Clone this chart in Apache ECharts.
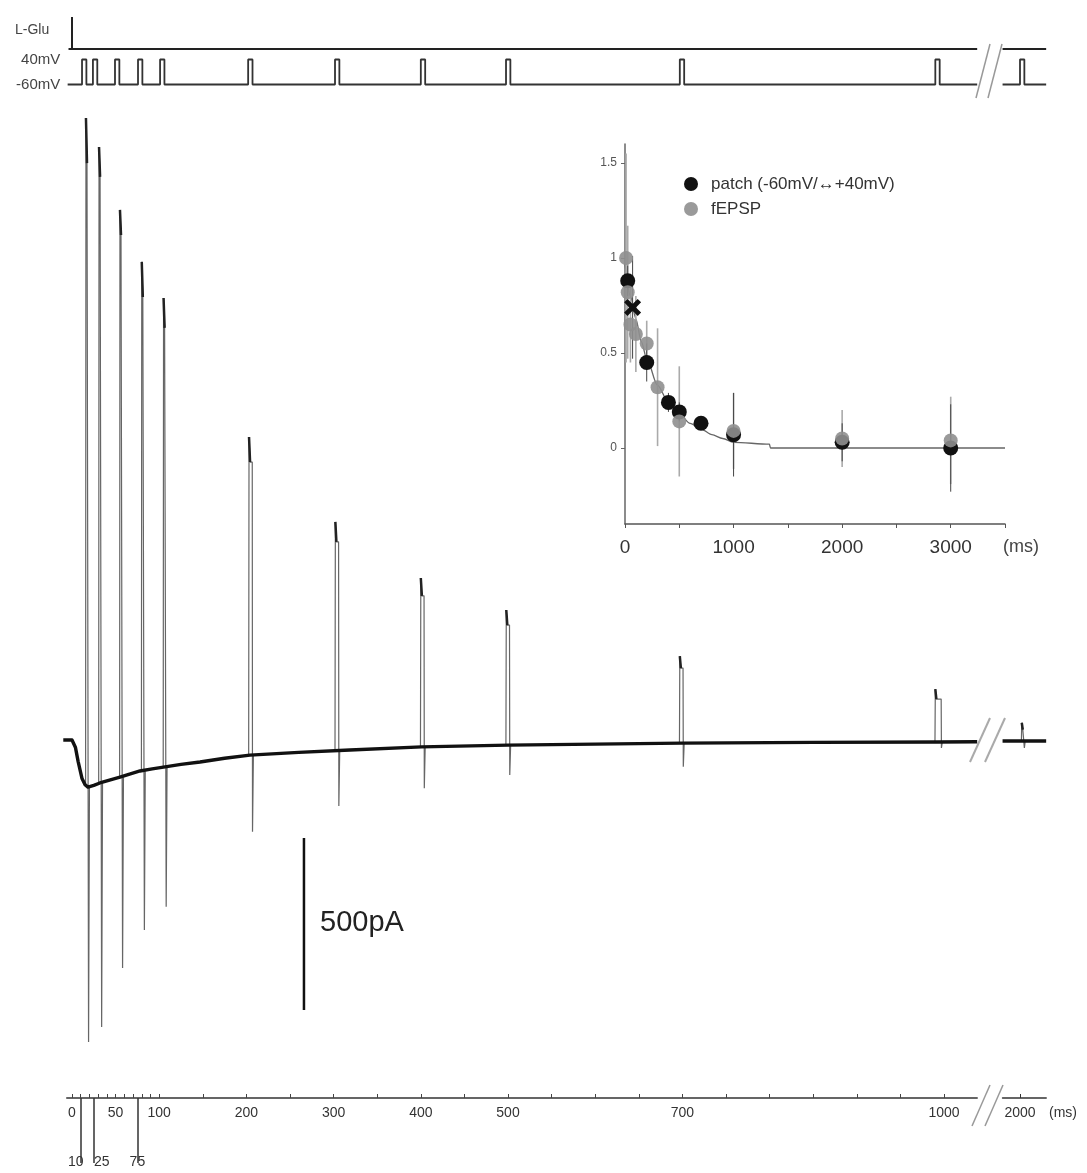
<!DOCTYPE html>
<html><head><meta charset="utf-8">
<script src="https://cdn.jsdelivr.net/npm/echarts@6/dist/echarts.min.js"></script>
<style>html,body{margin:0;padding:0;background:#fff}#c{width:1087px;height:1173px}</style>
</head><body><div id="c"></div>
<script>
// ---------- main current trace (time ms, current pA) ----------
const baseT = [-10, 0, 1.5, 4, 7, 11.5, 15, 18.3, 25, 32, 45, 55, 66, 78, 92, 106.7, 125, 146.8, 175, 204, 260, 318.8, 401, 500, 600, 699.5, 850, 993, 1038];
const baseI = [0, 0, -4, -22, -62, -112, -130, -137, -132, -125, -115, -108, -99, -90, -84, -78, -71, -64, -53, -44, -36, -29, -20, -15, -12, -9, -7, -6, -5];
const base2T = [1980, 2030];
const base2I = [-3, -3];
const spikeUpT = [16, 31, 55, 80, 105, 203, 302, 400, 498, 697, 990, 2002];
const spikeDownT = [19, 34, 58, 83, 108, 207, 306, 404, 502, 701, 997, 2005];
const spikeBase = [-137, -126, -108, -91, -78, -44, -29, -20, -15, -9, -6, -3];
const spikePeak = [1808, 1724, 1541, 1390, 1285, 881, 634, 471, 378, 244, 148, 50];
const spikeHook = [1677, 1637, 1468, 1288, 1198, 808, 576, 419, 334, 209, 119, 30];
const spikeTrough = [-878, -834, -663, -552, -485, -267, -192, -140, -102, -78, -23, -23];
const scaleBarT = 266;
const scaleBarI = [-285, -785];

// ---------- protocol ----------
const pulseStart = [11.5, 24, 49.3, 75.7, 101, 202, 301.6, 400, 497.7, 697, 990, 2000];
const pulseWidth = 5;
const holdV = -60, stepV = 40;
const gluOnT = 0;

// ---------- axis labels ----------
const axisLabelVals = [0, 50, 100, 200, 300, 400, 500, 700, 1000];
const axisTickVals = [0, 10, 20, 30, 40, 50, 60, 70, 80, 90, 100, 150, 200, 250, 300, 350, 400, 450, 500, 550, 600, 650, 700, 750, 800, 850, 900, 950, 1000];
const subLabelVals = [10, 25, 75];
const seg2LabelVals = [2000];

// ---------- inset ----------
const patchT = [25, 70, 200, 400, 500, 700, 1000, 2000, 3000];
const patchV = [0.88, 0.74, 0.45, 0.24, 0.19, 0.13, 0.07, 0.03, 0.0];
const patchE = [0.08, 0.27, 0.1, 0.05, 0.05, 0.03, 0.22, 0.1, 0.23];
const fepspT = [10, 25, 50, 100, 200, 300, 500, 1000, 2000, 3000];
const fepspV = [1.0, 0.82, 0.65, 0.6, 0.55, 0.32, 0.14, 0.09, 0.05, 0.04];
const fepspE = [0.55, 0.35, 0.2, 0.2, 0.12, 0.31, 0.29, 0.2, 0.15, 0.23];
const fitT = [0, 50, 100, 150, 200, 300, 400, 500, 600, 700, 800, 900, 1000, 1330, 1340, 3500];
const fitV = [0.97, 0.8, 0.68, 0.56, 0.47, 0.33, 0.24, 0.18, 0.13, 0.1, 0.07, 0.05, 0.03, 0.02, 0.0, 0.0];
const insetYLabels = [0, 0.5, 1, 1.5];
const insetXLabels = [0, 1000, 2000, 3000];

const FONT = 'Liberation Sans, Arial, Helvetica, sans-serif';
const chart = echarts.init(document.getElementById('c'));

function zip(a, b) { return a.map((v, i) => [v, b[i]]); }
function protoData(lo, hi) {
  const d = [[lo, holdV]];
  pulseStart.forEach(p => { if (p > lo && p < hi) d.push([p, holdV], [p, stepV], [p + pulseWidth, stepV], [p + pulseWidth, holdV]); });
  d.push([hi, holdV]);
  return d;
}
function spikeData(lo, hi) {
  const d = [];
  spikeUpT.forEach((t, i) => {
    if (t < lo || t > hi) return;
    d.push([t - 0.4, spikeBase[i]], [t, spikePeak[i]], [t + 1.2, spikeHook[i]],
           [spikeDownT[i] - 0.3, spikeHook[i]], [spikeDownT[i], spikeTrough[i]], [spikeDownT[i] + 1.0, spikeBase[i]], null);
  });
  return d;
}
function hookData(lo, hi) {
  const d = [];
  spikeUpT.forEach((t, i) => {
    if (t < lo || t > hi) return;
    d.push([t, spikePeak[i]], [t + 1.2, spikeHook[i]], null);
  });
  return d;
}
function errRender(color, w) {
  return function (params, api) {
    const t = api.value(0), v = api.value(1), e = api.value(2);
    const p1 = api.coord([t, v + e]), p2 = api.coord([t, v - e]);
    return { type: 'line', shape: { x1: p1[0], y1: p1[1], x2: p2[0], y2: p2[1] }, style: { stroke: color, lineWidth: w } };
  };
}

const S1 = { left: 63.28, width: 913.9 };   // -10 .. 1038 ms
const S2 = { left: 1002.56, width: 43.6 };  // 1980 .. 2030 ms
const gb = { containLabel: false, outerBoundsMode: 'none' };
const hiddenX = (gi, min, max) => ({ gridIndex: gi, type: 'value', min, max, show: false, axisLine: { onZero: false } });
const hiddenY = (gi, min, max) => ({ gridIndex: gi, type: 'value', min, max, show: false, axisLine: { onZero: false } });

const option = {
  animation: false,
  backgroundColor: '#fff',
  textStyle: { fontFamily: FONT },
  grid: [
    Object.assign({ left: S1.left, width: S1.width, top: 17, height: 32 }, gb),
    Object.assign({ left: S2.left, width: S2.width, top: 17, height: 32 }, gb),
    Object.assign({ left: S1.left, width: S1.width, top: 57, height: 30 }, gb),
    Object.assign({ left: S2.left, width: S2.width, top: 57, height: 30 }, gb),
    Object.assign({ left: S1.left, width: S1.width, top: 110.5, height: 983.8 }, gb),
    Object.assign({ left: S2.left, width: S2.width, top: 110.5, height: 983.8 }, gb),
    Object.assign({ left: 66.77, width: 910.4, top: 1098, height: 65 }, gb),
    Object.assign({ left: S2.left, width: S2.width, top: 1098, height: 65 }, gb),
    Object.assign({ left: 625, width: 380, top: 144, height: 380 }, gb)
  ],
  xAxis: [
    hiddenX(0, -10, 1038), hiddenX(1, 1980, 2030),
    hiddenX(2, -10, 1038), hiddenX(3, 1980, 2030),
    hiddenX(4, -10, 1038), hiddenX(5, 1980, 2030),
    { gridIndex: 6, type: 'value', min: -6, max: 1038, position: 'top',
      axisLine: { onZero: false, lineStyle: { color: '#333', width: 1.5 } },
      axisTick: { customValues: axisTickVals, length: 4, lineStyle: { color: '#444', width: 1 } },
      axisLabel: { customValues: axisLabelVals, inside: true, margin: 8, fontSize: 14, color: '#333', formatter: v => String(v) },
      splitLine: { show: false } },
    { gridIndex: 6, type: 'value', min: -6, max: 1038, position: 'bottom',
      axisLine: { show: false, onZero: false },
      axisTick: { customValues: subLabelVals, inside: true, length: 65, lineStyle: { color: '#333', width: 1.5 } },
      axisLabel: { customValues: subLabelVals, margin: -8, fontSize: 14, color: '#333',
        formatter: v => v === 10 ? '{a|10}' : (v === 25 ? '{b|25}' : '{c|' + v + '}'),
        rich: { a: { fontSize: 14, color: '#333', padding: [0, 10, 0, 0] }, b: { fontSize: 14, color: '#333', padding: [0, 0, 0, 16] }, c: { fontSize: 14, color: '#333' } } },
      splitLine: { show: false } },
    { gridIndex: 7, type: 'value', min: 1980, max: 2030, position: 'top',
      axisLine: { onZero: false, lineStyle: { color: '#333', width: 1.5 } },
      axisTick: { customValues: seg2LabelVals, length: 4 },
      axisLabel: { customValues: seg2LabelVals, inside: true, margin: 8, fontSize: 14, color: '#333', formatter: v => String(v) },
      splitLine: { show: false } },
    { gridIndex: 8, type: 'value', min: 0, max: 3500, interval: 500,
      axisLine: { onZero: false, lineStyle: { color: '#555', width: 1.5 } },
      axisTick: { length: 4, lineStyle: { color: '#555' } },
      axisLabel: { customValues: insetXLabels, margin: 14, fontSize: 19, color: '#333', formatter: v => String(v) },
      splitLine: { show: false } }
  ],
  yAxis: [
    hiddenY(0, 0, 1), hiddenY(1, 0, 1),
    { gridIndex: 2, type: 'value', min: -70, max: 50,
      axisLine: { show: false, onZero: false }, axisTick: { show: false }, splitLine: { show: false },
      axisLabel: { customValues: [holdV, stepV], margin: 3, fontSize: 15, color: '#444', padding: [7, 0, 0, 0], formatter: v => v + 'mV' } },
    hiddenY(3, -70, 50),
    hiddenY(4, -1030, 1830), hiddenY(5, -1030, 1830),
    hiddenY(6, 0, 1), hiddenY(7, 0, 1),
    { gridIndex: 8, type: 'value', min: -0.4, max: 1.6,
      axisLine: { onZero: false, lineStyle: { color: '#666', width: 1.5 } },
      axisTick: { customValues: insetYLabels, length: 4, lineStyle: { color: '#666' } },
      axisLabel: { customValues: insetYLabels, margin: 8, fontSize: 12, color: '#555', formatter: v => String(v) },
      splitLine: { show: false } }
  ],
  legend: {
    orient: 'vertical', left: 679, top: 170, itemWidth: 14, itemHeight: 14, itemGap: 7, icon: 'circle',
    textStyle: { fontSize: 17, color: '#333', lineHeight: 18, padding: [0, 0, 0, 8] },
    data: ['patch (-60mV/\u2194+40mV)', 'fEPSP']
  },
  series: [
    { type: 'line', xAxisIndex: 0, yAxisIndex: 0, symbol: 'none', lineStyle: { color: '#222', width: 2 },
      data: [[-4, 0], [gluOnT, 0], [gluOnT, 1], [gluOnT, 0], [1038, 0]] },
    { type: 'line', xAxisIndex: 1, yAxisIndex: 1, symbol: 'none', lineStyle: { color: '#222', width: 2 },
      data: [[1980, 0], [2030, 0]] },
    { type: 'line', xAxisIndex: 2, yAxisIndex: 2, symbol: 'none', lineStyle: { color: '#333', width: 1.8 },
      data: protoData(-5, 1038) },
    { type: 'line', xAxisIndex: 3, yAxisIndex: 3, symbol: 'none', lineStyle: { color: '#333', width: 1.8 },
      data: protoData(1980, 2030) },
    { type: 'line', xAxisIndex: 4, yAxisIndex: 4, symbol: 'none', connectNulls: false, z: 2,
      lineStyle: { color: '#666', width: 1.2 }, data: spikeData(-10, 1038) },
    { type: 'line', xAxisIndex: 4, yAxisIndex: 4, symbol: 'none', connectNulls: false, z: 3,
      lineStyle: { color: '#222', width: 2.5 }, data: hookData(-10, 1038) },
    { type: 'line', xAxisIndex: 4, yAxisIndex: 4, symbol: 'none', z: 4,
      lineStyle: { color: '#111', width: 3.4, join: 'round' }, data: zip(baseT, baseI) },
    { type: 'line', xAxisIndex: 5, yAxisIndex: 5, symbol: 'none', connectNulls: false, z: 2,
      lineStyle: { color: '#666', width: 1.2 }, data: spikeData(1980, 2030) },
    { type: 'line', xAxisIndex: 5, yAxisIndex: 5, symbol: 'none', connectNulls: false, z: 3,
      lineStyle: { color: '#222', width: 2.5 }, data: hookData(1980, 2030) },
    { type: 'line', xAxisIndex: 5, yAxisIndex: 5, symbol: 'none', z: 4,
      lineStyle: { color: '#111', width: 3.4 }, data: zip(base2T, base2I) },
    { type: 'line', xAxisIndex: 4, yAxisIndex: 4, symbol: 'none', lineStyle: { color: '#111', width: 2.5 },
      data: [[scaleBarT, scaleBarI[0]], [scaleBarT, scaleBarI[1]]] },
    { type: 'line', xAxisIndex: 6, yAxisIndex: 6, data: [] },
    { type: 'line', xAxisIndex: 8, yAxisIndex: 7, data: [] },
    // inset
    { type: 'line', xAxisIndex: 9, yAxisIndex: 8, symbol: 'none', smooth: 0.3, smoothMonotone: 'x', z: 1,
      lineStyle: { color: '#666', width: 1.3 }, data: zip(fitT, fitV) },
    { type: 'custom', xAxisIndex: 9, yAxisIndex: 8, z: 2, renderItem: errRender('#aaa', 1.6),
      encode: { x: 0, y: 1 }, data: fepspT.map((t, i) => [t, fepspV[i], fepspE[i]]) },
    { type: 'custom', xAxisIndex: 9, yAxisIndex: 8, z: 2, renderItem: errRender('#444', 1),
      encode: { x: 0, y: 1 }, data: patchT.map((t, i) => [t, patchV[i], patchE[i]]) },
    { name: 'patch (-60mV/\u2194+40mV)', type: 'scatter', xAxisIndex: 9, yAxisIndex: 8, z: 3,
      symbolSize: 15, itemStyle: { color: '#111', opacity: 1 },
      data: patchT.map((t, i) => i === 1
        ? { value: [t, patchV[i]], symbol: 'path://M0,2L2,0L5,3L8,0L10,2L7,5L10,8L8,10L5,7L2,10L0,8L3,5Z', symbolSize: 17 }
        : [t, patchV[i]]) },
    { name: 'fEPSP', type: 'scatter', xAxisIndex: 9, yAxisIndex: 8, z: 4,
      symbolSize: 14, itemStyle: { color: '#8f8f8f', opacity: 0.9 },
      data: zip(fepspT, fepspV) }
  ],
  graphic: [
    { type: 'text', left: 15, top: 23, style: { text: 'L-Glu', font: '14px ' + FONT, fill: '#444' } },
    { type: 'text', left: 320, top: 908, style: { text: '500pA', font: '29px ' + FONT, fill: '#222' } },
    { type: 'text', left: 1049, top: 1106, style: { text: '(ms)', font: '14px ' + FONT, fill: '#333' } },
    { type: 'text', left: 1003, top: 538, style: { text: '(ms)', font: '18px ' + FONT, fill: '#444' } },
    { type: 'line', shape: { x1: 976, y1: 98, x2: 990, y2: 44 }, style: { stroke: '#999', lineWidth: 1.5 } },
    { type: 'line', shape: { x1: 988, y1: 98, x2: 1002, y2: 44 }, style: { stroke: '#999', lineWidth: 1.5 } },
    { type: 'line', shape: { x1: 970, y1: 762, x2: 990, y2: 718 }, style: { stroke: '#aaa', lineWidth: 2 } },
    { type: 'line', shape: { x1: 985, y1: 762, x2: 1005, y2: 718 }, style: { stroke: '#aaa', lineWidth: 2 } },
    { type: 'line', shape: { x1: 972, y1: 1126, x2: 990, y2: 1085 }, style: { stroke: '#999', lineWidth: 1.5 } },
    { type: 'line', shape: { x1: 985, y1: 1126, x2: 1003, y2: 1085 }, style: { stroke: '#999', lineWidth: 1.5 } }
  ]
};
chart.setOption(option);
</script></body></html>
